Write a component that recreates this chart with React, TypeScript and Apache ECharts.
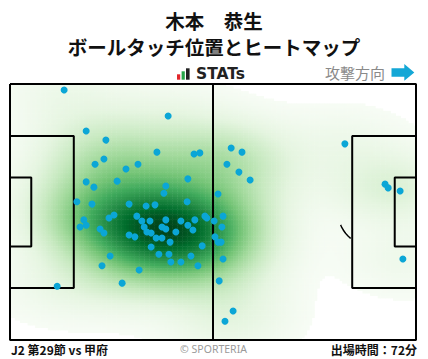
import React, { useEffect, useRef } from 'react';
import * as echarts from 'echarts';

// Ball touch positions in metres (x: 0-105 along attack, y: 0-68 from top touchline)
const touchX = [
  14.0, 40.9, 19.7, 24.8, 38.0, 47.6, 49.1, 24.3, 22.0, 33.1,
  30.0, 46.0, 19.7, 27.7, 21.7, 40.3, 39.8, 17.3, 45.8, 21.2,
  30.8, 35.2, 37.5, 19.1, 26.9, 25.6, 32.8, 34.1, 36.2, 40.3,
  44.2, 47.8, 50.4, 50.9, 18.1, 19.7, 23.3, 24.3, 34.7, 39.3,
  40.3, 46.0, 47.3, 35.4, 36.5, 42.9, 30.8, 32.3, 37.8, 39.3,
  41.4, 49.7, 36.5, 38.5, 41.1, 46.8, 25.9, 41.6, 44.2, 23.8,
  33.4, 48.6, 29.0, 12.2, 57.2, 60.0, 56.1, 59.2, 62.1, 53.8,
  55.1, 52.8, 54.8, 53.0, 53.8, 54.6, 55.1, 54.1, 57.7, 55.6,
  86.6, 97.0, 97.8, 100.9, 101.6,
];
const touchY = [
  1.6, 8.5, 12.5, 14.9, 18.1, 18.6, 18.3, 19.9, 21.3, 21.3,
  22.6, 25.2, 26.0, 25.8, 27.4, 27.1, 29.0, 31.3, 31.3, 31.9,
  31.9, 32.4, 32.1, 36.1, 34.8, 35.6, 35.1, 36.4, 36.4, 36.1,
  36.4, 36.1, 35.1, 35.6, 38.0, 37.5, 38.5, 39.6, 38.0, 38.0,
  38.5, 37.5, 38.8, 39.3, 39.6, 39.3, 40.1, 40.6, 40.9, 40.9,
  42.0, 43.0, 43.3, 45.2, 45.2, 45.7, 45.7, 47.3, 47.3, 48.3,
  49.4, 48.3, 52.9, 53.7, 17.0, 18.1, 21.3, 23.4, 25.5, 29.2,
  35.1, 36.4, 38.0, 40.6, 42.0, 42.0, 46.5, 52.3, 60.3, 63.0,
  15.9, 26.6, 27.6, 28.4, 46.5,
];

const titleLines = ['木本　恭生', 'ボールタッチ位置とヒートマップ'];
const matchLabel = 'J2 第29節 vs 甲府';
const minutesLabel = '出場時間：72分';
const copyright = '© SPORTERIA';
const attackLabel = '攻撃方向';

const PITCH_L = 105;
const PITCH_W = 68;
const NX = 160;
const NY = 104;
const THRESH = 0.008;
const BW_ADJUST = 1.15;
const GAMMA = 0.75;

const greens = ['#f7fcf5', '#e5f5e0', '#c7e9c0', '#a1d99b', '#74c476', '#41ab5d', '#238b45', '#006d2c', '#00441b'];

function buildKde() {
  const n = touchX.length;
  let mx = 0, my = 0;
  for (let i = 0; i < n; i++) { mx += touchX[i]; my += touchY[i]; }
  mx /= n; my /= n;
  let sxx = 0, syy = 0, sxy = 0;
  for (let i = 0; i < n; i++) {
    const dx = touchX[i] - mx, dy = touchY[i] - my;
    sxx += dx * dx; syy += dy * dy; sxy += dx * dy;
  }
  sxx /= n - 1; syy /= n - 1; sxy /= n - 1;
  const f2 = Math.pow(n, -1 / 3) * BW_ADJUST * BW_ADJUST;
  const a = sxx * f2, b = sxy * f2, d = syy * f2;
  const det = a * d - b * b;
  const ia = d / det, ib = -b / det, id = a / det;
  const dens: number[] = [];
  let maxD = 0;
  for (let j = 0; j < NY; j++) {
    for (let i = 0; i < NX; i++) {
      const x = (i + 0.5) * PITCH_L / NX;
      const y = (j + 0.5) * PITCH_W / NY;
      let s = 0;
      for (let k = 0; k < n; k++) {
        const dx = x - touchX[k], dy = y - touchY[k];
        s += Math.exp(-0.5 * (dx * dx * ia + 2 * dx * dy * ib + dy * dy * id));
      }
      dens.push(s);
      if (s > maxD) maxD = s;
    }
  }
  const data: number[][] = [];
  for (let j = 0; j < NY; j++) {
    for (let i = 0; i < NX; i++) {
      const p = dens[j * NX + i] / maxD;
      if (p >= THRESH) data.push([i, j, Math.pow(p, GAMMA)]);
    }
  }
  return data;
}

function rectPath(x0: number, y0: number, x1: number, y1: number) {
  return [[x0, y0], [x1, y0], [x1, y1], [x0, y1], [x0, y0]];
}

export default function App() {
  const ref = useRef<HTMLDivElement>(null);
  useEffect(() => {
    if (!ref.current) return;
    const chart = echarts.init(ref.current, null, { renderer: 'svg' });
    const heat = buildKde();
    const pa = 16.5, ga = 5.5, paW = 40.32, gaW = 18.32;
    const cy = PITCH_W / 2;
    const arc: number[][] = [];
    for (let t = 130; t <= 158; t += 2) {
      const r = (t * Math.PI) / 180;
      arc.push([PITCH_L - 11 + 9.15 * Math.cos(r), cy + 9.15 * Math.sin(r)]);
    }
    const lineSets = [
      rectPath(0, 0, PITCH_L, PITCH_W),
      [[PITCH_L / 2, 0], [PITCH_L / 2, PITCH_W]],
      [[0, cy - paW / 2], [pa, cy - paW / 2], [pa, cy + paW / 2], [0, cy + paW / 2]],
      [[0, cy - gaW / 2], [ga, cy - gaW / 2], [ga, cy + gaW / 2], [0, cy + gaW / 2]],
      [[PITCH_L, cy - paW / 2], [PITCH_L - pa, cy - paW / 2], [PITCH_L - pa, cy + paW / 2], [PITCH_L, cy + paW / 2]],
      [[PITCH_L, cy - gaW / 2], [PITCH_L - ga, cy - gaW / 2], [PITCH_L - ga, cy + gaW / 2], [PITCH_L, cy + gaW / 2]],
    ];
    const font = '"Noto Sans CJK JP", "Noto Sans", sans-serif';
    const grid = { left: 10, right: 12, top: 84, bottom: 19 };
    const minV = Math.pow(THRESH, GAMMA);
    chart.setOption({
      animation: false,
      grid: [grid, grid],
      xAxis: [
        { type: 'value', min: 0, max: PITCH_L, show: false, gridIndex: 0 },
        { type: 'category', data: Array.from({ length: NX }, (_, i) => String(i)), show: false, gridIndex: 1 },
      ],
      yAxis: [
        { type: 'value', min: 0, max: PITCH_W, inverse: true, show: false, gridIndex: 0 },
        { type: 'category', data: Array.from({ length: NY }, (_, i) => String(i)), inverse: true, show: false, gridIndex: 1 },
      ],
      visualMap: {
        type: 'continuous', show: false, seriesIndex: 0, min: minV, max: 1,
        inRange: { color: greens },
      },
      series: [
        { type: 'heatmap', xAxisIndex: 1, yAxisIndex: 1, data: heat, progressive: 0, itemStyle: { borderWidth: 0 } },
        ...lineSets.map((pts) => ({
          type: 'line', xAxisIndex: 0, yAxisIndex: 0, data: pts, symbol: 'none',
          lineStyle: { color: '#000', width: 2 }, silent: true,
        })),
        {
          type: 'line', xAxisIndex: 0, yAxisIndex: 0, data: arc, symbol: 'none', smooth: false,
          lineStyle: { color: '#000', width: 1.5 }, silent: true,
        },
        {
          type: 'scatter', xAxisIndex: 0, yAxisIndex: 0,
          data: touchX.map((x, i) => [x, touchY[i]]),
          symbolSize: 7, itemStyle: { color: '#0ba6d6', opacity: 1 }, z: 5,
        },
      ],
      graphic: [
        {
          type: 'text', x: 214, y: 20, style: {
            text: titleLines[0], fontFamily: font, fontSize: 19.5, lineHeight: 22, fontWeight: 'bold', fill: '#111',
            verticalAlign: 'middle', align: 'center',
          },
        },
        {
          type: 'text', x: 214, y: 46, style: {
            text: titleLines[1], fontFamily: font, fontSize: 19.5, lineHeight: 22, fontWeight: 'bold', fill: '#111',
            verticalAlign: 'middle', align: 'center',
          },
        },
        { type: 'rect', shape: { x: 177, y: 74.3, width: 3.2, height: 5.4 }, style: { fill: '#e2262b' } },
        { type: 'rect', shape: { x: 181.6, y: 71.3, width: 3.2, height: 8.4 }, style: { fill: '#27a649' } },
        { type: 'rect', shape: { x: 186, y: 68.3, width: 3.6, height: 11.4 }, style: { fill: '#222' } },
        {
          type: 'text', x: 196, y: 74, style: {
            text: 'STATs', fontFamily: '"DejaVu Sans", sans-serif', fontWeight: 'bold', fontSize: 15.5,
            fill: '#222', verticalAlign: 'middle', align: 'left',
          },
        },
        {
          type: 'text', x: 385, y: 72.5, style: {
            text: attackLabel, fontFamily: font, fontSize: 15, fill: '#8a8a8a', verticalAlign: 'middle', align: 'right',
          },
        },
        {
          type: 'polygon', shape: {
            points: [[391.5, 68.3], [404.3, 68.3], [404.3, 64], [414.3, 72.4], [404.3, 80.7], [404.3, 76.7], [391.5, 76.7]],
          }, style: { fill: '#14a7d6' },
        },
        {
          type: 'text', x: 11, y: 349.5, style: {
            text: matchLabel, fontFamily: font, fontSize: 12, fontWeight: 'bold', fill: '#111', verticalAlign: 'middle', align: 'left',
          },
        },
        {
          type: 'text', x: 213.5, y: 348.5, style: {
            text: copyright, fontFamily: '"Noto Sans", sans-serif', fontSize: 10.5, fill: '#9a9a9a', verticalAlign: 'middle', align: 'center',
          },
        },
        {
          type: 'text', x: 417, y: 349.5, style: {
            text: minutesLabel, fontFamily: font, fontSize: 12, fontWeight: 'bold', fill: '#111', verticalAlign: 'middle', align: 'right',
          },
        },
      ],
    });
    return () => chart.dispose();
  }, []);
  return <div ref={ref} style={{ width: 428, height: 359, position: 'absolute', left: 0, top: 0 }} />;
}
